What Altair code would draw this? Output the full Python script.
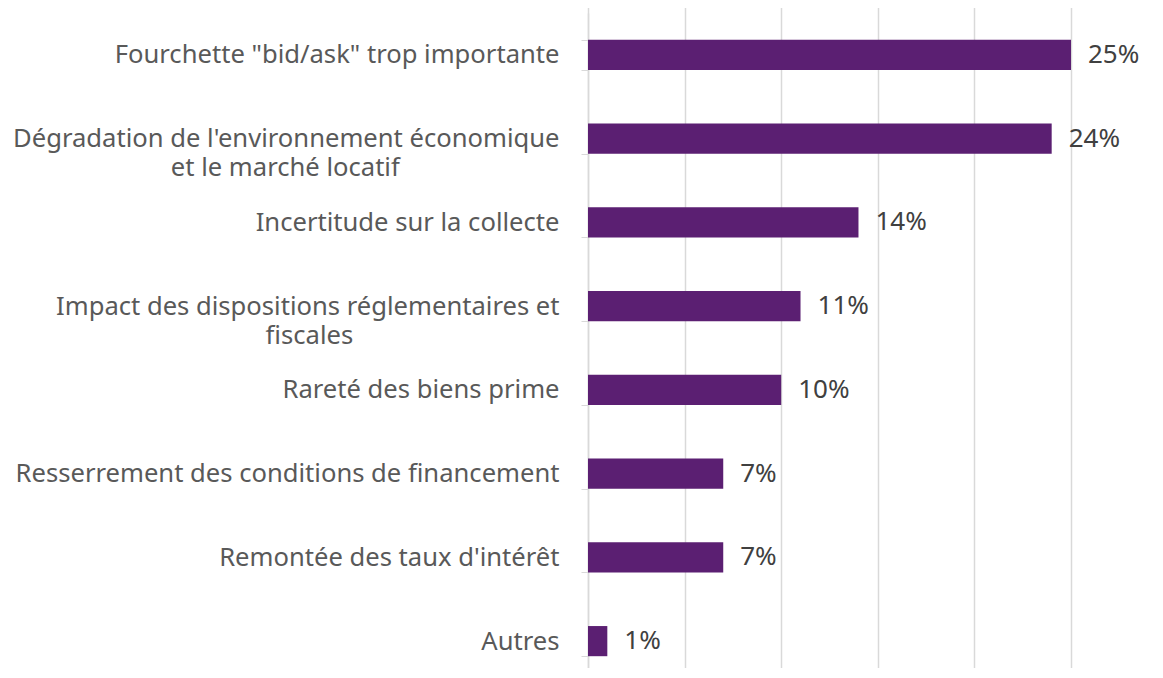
import altair as alt
import pandas as pd

categories = [
    'Fourchette "bid/ask" trop importante',
    "Dégradation de l'environnement économique et le marché locatif",
    "Incertitude sur la collecte",
    "Impact des dispositions réglementaires et fiscales",
    "Rareté des biens prime",
    "Resserrement des conditions de financement",
    "Remontée des taux d'intérêt",
    "Autres",
]
values = [25, 24, 14, 11, 10, 7, 7, 1]
value_labels = ["25%", "24%", "14%", "11%", "10%", "7%", "7%", "1%"]

NB = "\u00a0"
END = "\u200b"
label_lines = {
    categories[1]: ["Dégradation de l'environnement économique", "et le marché locatif" + NB * 24 + END],
    categories[3]: ["Impact des dispositions réglementaires et", "fiscales" + NB * 31 + END],
}

df = pd.DataFrame({"cat": categories, "val": values, "lab": value_labels})

expr_parts = []
for k, v in label_lines.items():
    key = k.replace("'", "\\'")
    arr = "[" + ",".join("'" + s.replace("'", "\\'") + "'" for s in v) + "]"
    expr_parts.append(f"datum.value == '{key}' ? {arr}")
label_expr = " : ".join(expr_parts) + " : datum.value"

FONT = "Noto Sans"

y = alt.Y(
    "cat:N",
    sort=categories,
    scale=alt.Scale(paddingInner=0.64, paddingOuter=0.32, range=[0, 670]),
    axis=alt.Axis(
        title=None,
        labelExpr=label_expr,
        labelFont=FONT,
        labelFontSize=25.6,
        labelColor="#595959",
        labelPadding=22,
        labelLimit=800,
        labelLineHeight=29,
        tickBand="extent",
        tickColor="#d9d9d9",
        tickSize=7,
        domainColor="#d9d9d9",
        domainWidth=1.5,
        grid=False,
    ),
)

x = alt.X(
    "val:Q",
    scale=alt.Scale(domain=[0, 25], nice=False),
    axis=alt.Axis(
        title=None,
        values=[0, 5, 10, 15, 20, 25],
        labels=False,
        ticks=False,
        domain=False,
        grid=True,
        gridColor="#d9d9d9",
        gridWidth=1.5,
    ),
)

bars = alt.Chart(df).mark_bar(color="#5B1F72").encode(x=x, y=y)

text = alt.Chart(df).mark_text(
    align="left", baseline="middle", dx=17, font=FONT, fontSize=26, color="#404040"
).encode(x="val:Q", y=alt.Y("cat:N", sort=categories), text="lab:N")

chart = (
    alt.layer(bars, text)
    .properties(
        width=483,
        height=655,
        autosize=alt.AutoSizeParams(type="none"),
        padding={"left": 580, "top": 5, "right": 80, "bottom": 0},
    )
    .configure_view(stroke=None)
)

chart.save("out.html", embed_options={"renderer": "svg", "actions": False})
